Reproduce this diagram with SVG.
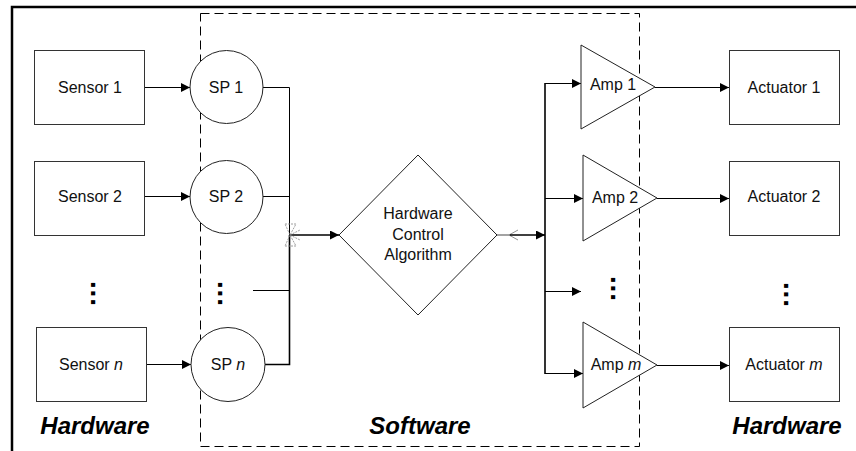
<svg xmlns="http://www.w3.org/2000/svg" width="856" height="451" viewBox="0 0 856 451">
  <defs>
    <marker id="arr" viewBox="0 0 10 10" refX="10" refY="5" markerWidth="10" markerHeight="9" markerUnits="userSpaceOnUse" orient="auto">
      <path d="M0,0 L10,5 L0,10 Z" fill="#000"/>
    </marker>
    <style>
      .box { fill: #fff; stroke: #333; stroke-width: 1; }
      .shape { fill: #fff; stroke: #222; stroke-width: 1; }
      .lbl { font-family: "Liberation Sans", Arial, sans-serif; font-size: 16px; fill: #111; text-anchor: middle; }
      .big { font-family: "Liberation Sans", Arial, sans-serif; font-size: 24px; font-weight: bold; font-style: italic; fill: #000; text-anchor: middle; }
      .dots { font-family: "Liberation Sans", Arial, sans-serif; font-size: 28px; font-weight: bold; letter-spacing: 0.8px; fill: #000; }
      .wire { fill: none; stroke: #000; stroke-width: 1; }
      .heavy { fill: none; stroke: #000; stroke-width: 1.6; }
      .ghost { fill: none; stroke: #888; stroke-width: 0.8; stroke-dasharray: 2,1; }
      .frame { fill: none; stroke: #000; stroke-width: 2.5; }
      .zone { fill: none; stroke: #000; stroke-width: 1; stroke-dasharray: 9,5; }
    </style>
  </defs>

  <!-- outer frame (left and top edges) -->
  <path class="frame" d="M12,451 L12,7 L856,7"/>

  <!-- software zone -->
  <rect class="zone" x="200.5" y="13.5" width="439" height="433"/>

  <!-- connectors -->
  <g id="connectors">
    <line class="wire" x1="144" y1="87.5" x2="190" y2="87.5" marker-end="url(#arr)"/>
    <line class="wire" x1="144" y1="196.5" x2="190" y2="196.5" marker-end="url(#arr)"/>
    <line class="wire" x1="146" y1="364.5" x2="191" y2="364.5" marker-end="url(#arr)"/>

    <polyline class="wire" points="263,87.5 289.5,87.5 289.5,235"/>
    <line class="wire" x1="263" y1="196.5" x2="289.5" y2="196.5"/>
    <line class="wire" x1="253" y1="290.5" x2="289.5" y2="290.5"/>
    <polyline class="heavy" points="264,364.5 289.5,364.5 289.5,235"/>
    <line class="heavy" x1="289" y1="235" x2="339" y2="235" marker-end="url(#arr)"/>
    <!-- junction decoration -->
    <path class="ghost" d="M285,224 L296,224 L290,235 Z M285,246 L296,246 L290,235 Z M290,235 L300,230 M290,235 L300,240"/>

    <line x1="497" y1="235" x2="510" y2="235" stroke="#666" stroke-width="1.2"/>
    <path d="M518,230 L509,235 L518,240" fill="none" stroke="#777" stroke-width="0.8"/>
    <line class="heavy" x1="510" y1="235" x2="545" y2="235" marker-end="url(#arr)"/>

    <line class="heavy" x1="545" y1="83" x2="545" y2="374"/>
    <line class="wire" x1="545" y1="83.5" x2="581" y2="83.5" marker-end="url(#arr)"/>
    <line class="wire" x1="545" y1="198.5" x2="583" y2="198.5" marker-end="url(#arr)"/>
    <line class="wire" x1="545" y1="291.5" x2="581" y2="291.5" marker-end="url(#arr)"/>
    <line class="wire" x1="545" y1="373.5" x2="583" y2="373.5" marker-end="url(#arr)"/>

    <line class="wire" x1="655" y1="87.5" x2="729" y2="87.5" marker-end="url(#arr)"/>
    <line class="wire" x1="657" y1="198.5" x2="729" y2="198.5" marker-end="url(#arr)"/>
    <line class="wire" x1="657" y1="365.5" x2="729" y2="365.5" marker-end="url(#arr)"/>
  </g>

  <!-- sensors -->
  <g id="sensor1">
    <rect class="box" x="34.5" y="50.5" width="110" height="74"/>
    <text class="lbl" x="90" y="93">Sensor 1</text>
  </g>
  <g id="sensor2">
    <rect class="box" x="34.5" y="161.5" width="110" height="74"/>
    <text class="lbl" x="90" y="202">Sensor 2</text>
  </g>
  <g id="sensorN">
    <rect class="box" x="36.5" y="327.5" width="110" height="74"/>
    <text class="lbl" x="91" y="370">Sensor <tspan font-style="italic">n</tspan></text>
  </g>

  <!-- signal processors -->
  <g id="sp1">
    <circle class="shape" cx="226.5" cy="87" r="36.5"/>
    <text class="lbl" x="226" y="93">SP 1</text>
  </g>
  <g id="sp2">
    <circle class="shape" cx="226.5" cy="197" r="36.5"/>
    <text class="lbl" x="226" y="202">SP 2</text>
  </g>
  <g id="spN">
    <circle class="shape" cx="228" cy="364.5" r="37"/>
    <text class="lbl" x="228" y="370">SP <tspan font-style="italic">n</tspan></text>
  </g>

  <!-- controller -->
  <g id="controller">
    <polygon class="shape" points="418,155 497,235 418,315 339,235"/>
    <text class="lbl" x="418" y="219">Hardware</text>
    <text class="lbl" x="418" y="240">Control</text>
    <text class="lbl" x="418" y="260">Algorithm</text>
  </g>

  <!-- amplifiers -->
  <g id="amp1">
    <polygon class="shape" points="581,45 655,87 581,129"/>
    <text class="lbl" x="613" y="90">Amp 1</text>
  </g>
  <g id="amp2">
    <polygon class="shape" points="583,155 657,198 583,241"/>
    <text class="lbl" x="615" y="203">Amp 2</text>
  </g>
  <g id="ampM">
    <polygon class="shape" points="583,322 657,365 583,408"/>
    <text class="lbl" x="616" y="370">Amp <tspan font-style="italic">m</tspan></text>
  </g>

  <!-- actuators -->
  <g id="actuator1">
    <rect class="box" x="729.5" y="50.5" width="110" height="74"/>
    <text class="lbl" x="784" y="93">Actuator 1</text>
  </g>
  <g id="actuator2">
    <rect class="box" x="729.5" y="161.5" width="110" height="74"/>
    <text class="lbl" x="784" y="202">Actuator 2</text>
  </g>
  <g id="actuatorM">
    <rect class="box" x="729.5" y="327.5" width="110" height="74"/>
    <text class="lbl" x="784" y="370">Actuator <tspan font-style="italic">m</tspan></text>
  </g>

  <!-- continuation dots -->
  <text class="dots" transform="translate(91,281) rotate(90)">...</text>
  <text class="dots" transform="translate(218,281) rotate(90)">...</text>
  <text class="dots" transform="translate(611,276) rotate(90)">...</text>
  <text class="dots" transform="translate(784,282) rotate(90)">...</text>

  <!-- domain labels -->
  <text class="big" x="95" y="434">Hardware</text>
  <text class="big" x="420" y="434">Software</text>
  <text class="big" x="787" y="434">Hardware</text>
</svg>
